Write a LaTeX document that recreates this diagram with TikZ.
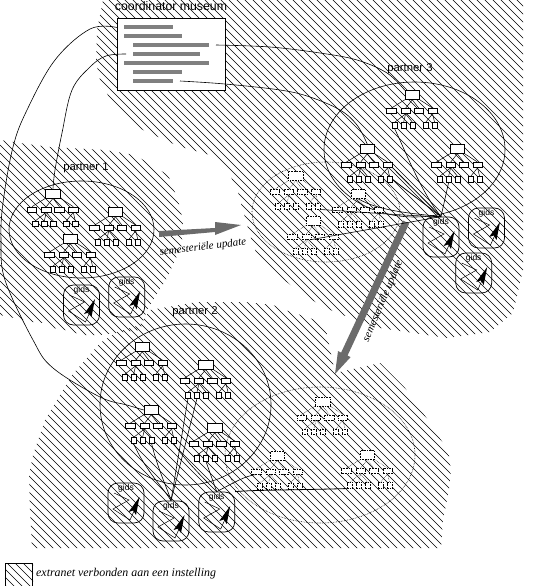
\documentclass[tikz,border=0pt]{standalone}
\usepackage{fontspec}
\setmainfont{Liberation Sans}
\newfontfamily\serifit{Liberation Serif}
\usetikzlibrary{arrows.meta}
\tikzset{
  hatchline/.style={line width=0.65pt,black},
  conn/.style={line width=0.6pt,black},
  solidk/.style={draw=black,line width=0.7pt,fill=white},
  dottedk/.style={draw=black,line width=0.6pt,densely dotted,fill=white},
  solide/.style={line width=0.5pt,black},
  dottede/.style={line width=0.5pt,black,densely dotted},
  rootbox/.style={rectangle,minimum width=14.5pt,minimum height=9pt,inner sep=0pt},
  kidbox/.style={rectangle,minimum width=9.5pt,minimum height=5pt,inner sep=0pt},
  leafbox/.style={rectangle,minimum width=5.5pt,minimum height=5.5pt,inner sep=0pt},
  gidsframe/.style={draw=black,line width=0.7pt,rounded corners=10pt,minimum width=36pt,minimum height=40pt,inner sep=0pt},
  gidstext/.style={font=\fontsize{8.5}{9}\selectfont,inner sep=0pt},
  ptitle/.style={font=\fontsize{11.3}{12}\selectfont,inner sep=0pt},
  itlabel/.style={font=\serifit\itshape\fontsize{11}{12}\selectfont,inner sep=0pt},
  bar/.style={fill=black!50},
  bigarrow/.style={fill=black!58,draw=none},
  ell/.style={line width=0.6pt,black},
}
\newcommand\hatchset[1]{%
  \foreach \c in {-608,-600,...,608}{\draw[hatchline] (0,{\c+#1}) -- (600,{600+\c+#1});}}
\newcommand\ptree[5]{% name,x,y,box style,edge style
  \begin{scope}[shift={(#2,#3)}]
  \node[rootbox,#4] (#1r) at (0,0) {};
  \node[kidbox,#4] (#1a) at (-21,16) {};
  \node[kidbox,#4] (#1b) at (-6.7,16) {};
  \node[kidbox,#4] (#1c) at (6.5,16) {};
  \node[kidbox,#4] (#1d) at (20.3,16) {};
  \node[leafbox,#4] (#1p) at (-17.7,30.5) {};
  \node[leafbox,#4] (#1q) at (-8.7,30.5) {};
  \node[leafbox,#4] (#1s) at (0.3,30.5) {};
  \node[leafbox,#4] (#1t) at (13.3,30.5) {};
  \node[leafbox,#4] (#1u) at (22.3,30.5) {};
  \draw[#5] (#1a.north) -- (#1r.south west);
  \draw[#5] (#1b.north) -- (#1r.south);
  \draw[#5] (#1c.north) -- (#1r.south);
  \draw[#5] (#1d.north) -- (#1r.south east);
  \draw[#5] (#1b.south) -- (#1p.north);
  \draw[#5] (#1b.south) -- (#1q.north);
  \draw[#5] (#1b.south) -- (#1s.north);
  \draw[#5] (#1d.south) -- (#1t.north);
  \draw[#5] (#1d.south) -- (#1u.north);
  \end{scope}}
\newcommand\gidsbox[3]{%
  \begin{scope}[shift={(#2,#3)}]
  \node[gidsframe] (#1) at (0,0) {};
  \node[gidstext] (#1t) at (0,-15) {gids};
  \draw[line width=0.5pt] (-12,-10) -- (3,-3) -- (-13,6) -- (4,17) -- (8,8);
  \fill (13.5,-6) -- (10,12) -- (7.2,7.5) -- (2.5,9) -- cycle;
  \end{scope}}
\begin{document}
\begin{tikzpicture}[x=1pt,y=-1pt]
\useasboundingbox (0,0) rectangle (544,586);
\fill[white] (0,0) rectangle (544,586);
% hatched areas
\begin{scope}
\clip (103,0) -- (97,30) -- (96,62) -- (100,80) -- (113,105) -- (125,117) -- (143,130) -- (178,146) -- (210,155) -- (228,172) -- (237,188) -- (240,200) -- (250,235) -- (258,258) -- (265,265) -- (297,290) -- (320,305) -- (337,313) -- (380,328) -- (447,338) -- (490,332) -- (513,313) -- (523,270) -- (523,0) -- cycle;
\hatchset{3}
\end{scope}
\begin{scope}
\clip (0,140) -- (20,143) -- (50,147) -- (70,148) -- (105,150) -- (135,155) -- (168,175) -- (178,200) -- (183,221) -- (182,245) -- (167,278) -- (155,297) -- (147,310) -- (140,330) -- (100,335) -- (83,335) -- (65,330) -- (53,328) -- (43,323) -- (33,322) -- (0,315) -- cycle;
\hatchset{1}
\end{scope}
\begin{scope}
\clip (140,325) -- (117,332) -- (100,343) -- (87,358) -- (72,375) -- (60,395) -- (45,420) -- (33,455) -- (29,475) -- (30,510) -- (32,548) -- (441,548) -- (443,520) -- (449,490) -- (451,470) -- (449,456) -- (443,443) -- (428,420) -- (405,388) -- (380,363) -- (335,373) -- (325,325) -- (310,318) -- (285,310) -- (273,305) -- (245,302) -- (197,302) -- (150,310) -- cycle;
\hatchset{7}
\end{scope}
% big arrows
\fill[bigarrow] (159,231) -- (215,228) -- (215,222) -- (241,225) -- (215,235) -- (215,232) -- (159,237) -- cycle;
\fill[bigarrow] (409.2,223.5) -- (402.8,220.5) -- (341.1,352.6) -- (338,351.1) -- (335,374) -- (350.6,357.1) -- (347.5,355.6) -- cycle;
% ellipses
\node[draw=none,inner sep=0pt] (e1) at (81.5,229.5) {};
\draw[ell] (e1) ellipse [x radius=72.5,y radius=48.5];
\node[draw=none,inner sep=0pt] (e3) at (414.5,149.5) {};
\draw[ell] (e3) ellipse [x radius=90.5,y radius=67.5];
\node[draw=none,inner sep=0pt] (e2) at (185.5,404.5) {};
\draw[ell] (e2) ellipse [x radius=85.5,y radius=80.5];
\node[draw=none,inner sep=0pt] (e4) at (326,212) {};
\draw[ell,densely dotted] (e4) ellipse [x radius=74,y radius=50];
\node[draw=none,inner sep=0pt] (e5) at (320,455) {};
\draw[ell,densely dotted] (e5) ellipse [x radius=95,y radius=68];
% coordinator document
\node[draw=black,line width=0.9pt,fill=white,minimum width=108pt,minimum height=72pt,inner sep=0pt] (doc) at (171.5,54) {};
\fill[bar] (124,25) rectangle (173,29);
\fill[bar] (124,33.7) rectangle (182,37.7);
\fill[bar] (133,43) rectangle (209,47);
\fill[bar] (133,52) rectangle (200,56);
\fill[bar] (124,60.7) rectangle (209,64.7);
\fill[bar] (133,69.7) rectangle (182,73.7);
\fill[bar] (133,78.7) rectangle (173,82.7);
\coordinate (la) at (doc.west |- 0,27.5);
\coordinate (lb) at (126,54);
\coordinate (lc) at (216,45);
\coordinate (ld) at (180,81);
% trees
\ptree{pa}{53}{193.5}{solidk}{solide}
\ptree{pb}{115.5}{212}{solidk}{solide}
\ptree{pc}{70.3}{239}{solidk}{solide}
\ptree{qa}{142.3}{347}{solidk}{solide}
\ptree{qb}{205.7}{364.7}{solidk}{solide}
\ptree{qc}{151.3}{410}{solidk}{solide}
\ptree{qd}{214.7}{428}{solidk}{solide}
\ptree{ra}{412.3}{95}{solidk}{solide}
\ptree{rb}{367.3}{149}{solidk}{solide}
\ptree{rc}{457.3}{149}{solidk}{solide}
\ptree{sa}{295.7}{176}{dottedk}{dottede}
\ptree{sb}{358.3}{194}{dottedk}{dottede}
\ptree{sc}{313.3}{220.7}{dottedk}{dottede}
\ptree{ta}{322.7}{401.3}{dottedk}{dottede}
\ptree{tb}{277.3}{455.7}{dottedk}{dottede}
\ptree{tc}{367.3}{455}{dottedk}{dottede}
% gids boxes
\gidsbox{ga}{81.5}{305}
\gidsbox{gb}{126.7}{297}
\gidsbox{gc}{441}{237}
\gidsbox{gd}{486.5}{228}
\gidsbox{ge}{473.7}{273}
\gidsbox{gf}{126}{503}
\gidsbox{gg}{171}{521}
\gidsbox{gh}{216.7}{512}
% connectors
\draw[conn] plot[smooth,tension=0.6] coordinates {(la) (90,29) (55,60) (27,110) (13,147) (3,203) (1,240) (5,280) (33,340) (53,368) (100,397) (127,405) (qcr.west)};
\draw[conn] plot[smooth,tension=0.6] coordinates {(lb) (106,56) (90,67) (72,90) (62,133) (55,170) (par.north)};
\draw[conn] plot[smooth,tension=0.6] coordinates {(lc) (270,47) (320,53) (357,60) (387,73) (rar.north west)};
\draw[conn] plot[smooth,tension=0.6] coordinates {(ld) (225,84) (280,90) (310,97) (340,110) (357,125) (rbr.north)};
\draw[conn,line width=0.8pt] (rbd.south east) -- (gc.north);
\draw[conn,line width=0.8pt] (rbu.east) -- (gc.north);
\draw[conn] (rap.south) .. controls (405,150) and (420,190) .. (gc.north);
\draw[conn] (rcq.south) -- (gc.north);
\draw[conn] (scb.south east) -- (gc.north);
\draw[conn] (sbr.south) .. controls (380,212) and (420,214) .. (gc.north);
\draw[conn] (sau.south east) .. controls (360,212) and (410,216) .. (gc.north);
\draw[conn] (qbp.south) -- (gg.north);
\draw[conn] (qbq.south) -- (gg.north);
\draw[conn] (qcp.south) .. controls (145,470) and (165,490) .. (gg.north);
\draw[conn] (qcs.south) .. controls (158,470) and (168,490) .. (gg.north);
\draw[conn] (qcu.south) .. controls (185,460) and (205,480) .. (gh.north);
\draw[conn] (qdq.south) -- (gh.north);
\draw[conn] (gh.north) .. controls (235,482) and (245,476) .. (tba.south);
\draw[conn,line width=0.8pt] (gh.north east) .. controls (250,490) and (300,490) .. (tcp.south west);
% labels
\node[font=\fontsize{12.3}{13}\selectfont,inner sep=0pt] (t0) at (171,6) {coordinator museum};
\node[ptitle] (t1) at (86,168) {partner 1};
\node[ptitle] (t2) at (195,312) {partner 2};
\node[ptitle] (t3) at (410,69) {partner 3};
\node[itlabel,rotate=7] (u1) at (203,247.5) {semesteriële update};
\node[itlabel,rotate=67] (u2) at (383,301) {semesteriële update};
% legend
\begin{scope}
\clip (5,563) rectangle (33,586);
\hatchset{4}
\end{scope}
\node[draw=black,line width=0.7pt,minimum width=27pt,minimum height=23pt,inner sep=0pt] (lg) at (19,574.5) {};
\node[font=\serifit\itshape\fontsize{11.9}{12}\selectfont,inner sep=0pt,anchor=west] (lt) at (36,573.5) {extranet verbonden aan een instelling};
\end{tikzpicture}
\end{document}
